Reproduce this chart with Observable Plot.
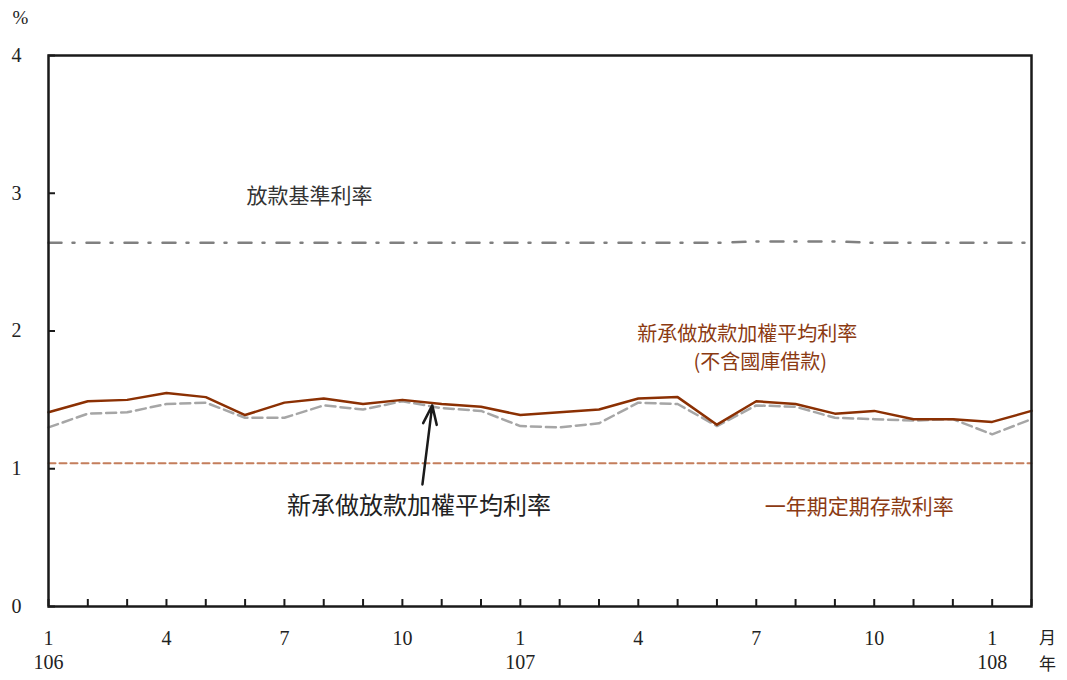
<!DOCTYPE html>
<html>
<head>
<meta charset="utf-8">
<script src="https://cdn.jsdelivr.net/npm/d3@7"></script>
<script src="https://cdn.jsdelivr.net/npm/@observablehq/plot@0.6"></script>
<style>
  html, body { margin: 0; padding: 0; background: #fff; }
  svg text { font-family: "Liberation Serif", "DejaVu Serif", serif; }
  svg text.cjk, svg g.cjk text { font-family: "Noto Sans CJK TC", "Noto Sans CJK SC", sans-serif; }
</style>
</head>
<body>
<div id="chart"></div>
<script>
// Month index 0 = 106年1月 ... 25 = 108年2月
const monthIndex = d3.range(26);
const monthLabelTicks = [0, 3, 6, 9, 12, 15, 18, 21, 24];
const monthLabels = ["1", "4", "7", "10", "1", "4", "7", "10", "1"];
const yearTicks = [0, 12, 24];
const yearLabels = ["106", "107", "108"];
const yTicks = [0, 1, 2, 3, 4];

// 新承做放款加權平均利率(不含國庫借款)
const newLoanExGov = [1.41, 1.49, 1.50, 1.55, 1.52, 1.39, 1.48, 1.51, 1.47, 1.50, 1.47, 1.45, 1.39,
                      1.41, 1.43, 1.51, 1.52, 1.32, 1.49, 1.47, 1.40, 1.42, 1.36, 1.36, 1.34, 1.42];
// 新承做放款加權平均利率
const newLoan = [1.30, 1.40, 1.41, 1.47, 1.48, 1.37, 1.37, 1.46, 1.43, 1.49, 1.44, 1.42, 1.31,
                 1.30, 1.33, 1.48, 1.47, 1.31, 1.46, 1.45, 1.37, 1.36, 1.35, 1.36, 1.25, 1.36];
// 放款基準利率
const baseRate = [2.64, 2.64, 2.64, 2.64, 2.64, 2.64, 2.64, 2.64, 2.64, 2.64, 2.64, 2.64, 2.64,
                  2.64, 2.64, 2.64, 2.64, 2.64, 2.65, 2.65, 2.65, 2.64, 2.64, 2.64, 2.64, 2.64];
// 一年期定期存款利率
const depositRate = [1.04, 1.04, 1.04, 1.04, 1.04, 1.04, 1.04, 1.04, 1.04, 1.04, 1.04, 1.04, 1.04,
                     1.04, 1.04, 1.04, 1.04, 1.04, 1.04, 1.04, 1.04, 1.04, 1.04, 1.04, 1.04, 1.04];

// Annotation labels (positions in data units)
const annotations = [
  {text: "放款基準利率", x: 6.64, y: 2.98, color: "#333333", size: 21},
  {text: "新承做放款加權平均利率", x: 17.77, y: 1.975, color: "#8B3A12", size: 20},
  {text: "(不含國庫借款)", x: 18.1, y: 1.77, color: "#8B3A12", size: 20},
  {text: "新承做放款加權平均利率", x: 9.42, y: 0.726, color: "#222222", size: 24},
  {text: "一年期定期存款利率", x: 20.62, y: 0.719, color: "#8B3A12", size: 21}
];
const arrows = [{x1: 9.51, y1: 0.886, x2: 9.76, y2: 1.46}];
const monthUnit = ["月"];
const yearUnit = ["年"];

const chart = Plot.plot({
  width: 1067,
  height: 680,
  marginLeft: 48,
  marginRight: 36,
  marginTop: 55,
  marginBottom: 74,
  x: {domain: [0, 25], axis: null},
  y: {domain: [0, 4], axis: null},
  style: {fontFamily: "Liberation Serif, serif", fontSize: "19px", background: "#fff", color: "#222"},
  marks: [
    Plot.lineY(baseRate, {x: (d, i) => i, y: d => d, stroke: "#808080", strokeWidth: 2.5, strokeDasharray: "13,11,2,12"}),
    Plot.lineY(depositRate, {x: (d, i) => i, y: d => d, stroke: "#C47E5C", strokeWidth: 2, strokeDasharray: "7,4"}),
    Plot.lineY(newLoan, {x: (d, i) => i, y: d => d, stroke: "#A6A6A6", strokeWidth: 2.5, strokeDasharray: "10,5"}),
    Plot.lineY(newLoanExGov, {x: (d, i) => i, y: d => d, stroke: "#8B3003", strokeWidth: 2.5}),
    Plot.arrow(arrows, {x1: "x1", y1: "y1", x2: "x2", y2: "y2", stroke: "#1a1a1a", strokeWidth: 2.5, headLength: 12, headAngle: 40}),
    Plot.text(annotations, {x: "x", y: "y", text: "text", fill: d => d.color, fontSize: d => d.size,
      className: "cjk", textAnchor: "middle"}),
    // ticks (inside)
    Plot.axisX({ticks: monthIndex, tickSize: -7, fill: "none", stroke: "#1a1a1a", strokeWidth: 2, label: null}),
    Plot.axisY({ticks: yTicks, tickSize: -7, fill: "none", stroke: "#1a1a1a", strokeWidth: 2, label: null}),
    // tick labels
    Plot.axisX({ticks: monthLabelTicks, tickSize: 0, tickPadding: 24, label: null,
      tickFormat: d => monthLabels[monthLabelTicks.indexOf(d)], fontSize: 20, fill: "#222"}),
    Plot.axisX({ticks: yearTicks, tickSize: 0, tickPadding: 48, label: null,
      tickFormat: d => yearLabels[yearTicks.indexOf(d)], fontSize: 20, fill: "#222"}),
    Plot.axisY({ticks: yTicks, tickSize: 0, tickPadding: 27, label: null, tickFormat: d => String(d), fontSize: 20, fill: "#222"}),
    Plot.text(["%"], {x: 0, y: 4, text: d => d, dx: -28, dy: -38, fontSize: 19, fill: "#222"}),
    Plot.text(monthUnit, {x: 25, y: 0, text: d => d, dx: 16, dy: 32, fontSize: 17, className: "cjk", fill: "#222"}),
    Plot.text(yearUnit, {x: 25, y: 0, text: d => d, dx: 16, dy: 58, fontSize: 17, className: "cjk", fill: "#222"}),
    Plot.frame({stroke: "#1a1a1a", strokeWidth: 2.5})
  ]
});
document.getElementById("chart").appendChild(chart);
</script>
</body>
</html>
